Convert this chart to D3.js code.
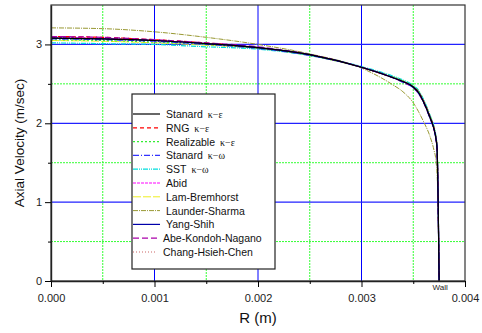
<!DOCTYPE html>
<html><head><meta charset="utf-8">
<script src="https://cdn.jsdelivr.net/npm/d3@7"></script>
<style>body{margin:0;background:#fff}svg{display:block}</style>
</head><body>
<script>
// ---- data ----
const radius = [0, 0.0005, 0.001, 0.0015, 0.002, 0.0025, 0.003, 0.0033, 0.0034, 0.0035, 0.00355, 0.0036, 0.00366, 0.0037, 0.00372, 0.00373, 0.00374, 0.003745, 0.00375];
const seriesNames = ["Stanard", "RNG", "Realizable", "Stanard", "SST", "Abid", "Lam-Bremhorst", "Launder-Sharma", "Yang-Shih", "Abe-Kondoh-Nagano", "Chang-Hsieh-Chen"];
const seriesSuffix = ["κ−ε", "κ−ε", "κ−ε", "κ−ω", "κ−ω", "", "", "", "", "", ""];
const stdKe      = [3.08,3.07,3.05,3.01,2.96,2.87,2.71,2.58,2.53,2.46,2.39,2.27,2.08,1.93,1.80,1.68,1.05,0.55,0];
const rngKe      = [3.10,3.09,3.06,3.02,2.96,2.87,2.71,2.58,2.53,2.46,2.40,2.28,2.09,1.94,1.81,1.69,1.06,0.55,0];
const realKe     = [3.06,3.05,3.03,3.00,2.95,2.86,2.71,2.59,2.54,2.47,2.41,2.29,2.10,1.95,1.82,1.70,1.07,0.56,0];
const stdKw      = [3.07,3.06,3.04,3.00,2.95,2.86,2.71,2.58,2.52,2.45,2.38,2.27,2.07,1.92,1.79,1.67,1.04,0.54,0];
const sstKw      = [3.02,3.01,3.00,2.97,2.94,2.86,2.72,2.60,2.55,2.48,2.42,2.30,2.11,1.96,1.83,1.71,1.08,0.56,0];
const abid       = [3.09,3.08,3.05,3.01,2.96,2.87,2.71,2.58,2.53,2.46,2.39,2.28,2.08,1.93,1.80,1.68,1.05,0.55,0];
const lamBrem    = [3.05,3.04,3.02,2.99,2.95,2.86,2.71,2.59,2.54,2.47,2.41,2.29,2.10,1.95,1.82,1.70,1.07,0.56,0];
const launderSh  = [3.21,3.20,3.16,3.09,3.00,2.88,2.70,2.49,2.40,2.26,2.15,2.02,1.84,1.66,1.52,1.35,0.95,0.50,0];
const yangShih   = [3.08,3.07,3.05,3.01,2.96,2.87,2.71,2.58,2.53,2.46,2.39,2.27,2.08,1.93,1.80,1.68,1.05,0.55,0];
const abeKN      = [3.10,3.09,3.06,3.02,2.97,2.87,2.71,2.58,2.52,2.45,2.38,2.26,2.07,1.92,1.79,1.67,1.04,0.54,0];
const changHC    = [3.09,3.08,3.05,3.01,2.96,2.87,2.71,2.58,2.53,2.46,2.40,2.28,2.09,1.94,1.81,1.69,1.06,0.55,0];
const seriesValues = [stdKe, rngKe, realKe, stdKw, sstKw, abid, lamBrem, launderSh, yangShih, abeKN, changHC];
const xTicks = [0, 0.001, 0.002, 0.003, 0.004];
const xTickLabels = ["0.000", "0.001", "0.002", "0.003", "0.004"];
const xMinor = [0.0005, 0.0015, 0.0025, 0.0035];
const yTicks = [0, 1, 2, 3];
const yMinor = [0.5, 1.5, 2.5];
const wallR = 0.00375;

// ---- styles ----
const colors = ["#000000", "#ff0000", "#33ee33", "#3333ff", "#00dddd", "#ff00ff", "#eeee22", "#999933", "#0000aa", "#aa00aa", "#cc6666"];
const dashes = ["", "4,3", "2,2", "6,2,1,2", "5,1,1,1,1,1", "3,1", "8,2", "5,1,1,1", "", "6,3", "1,2"];
const widths = [1.2, 1.2, 1.2, 1.2, 1.2, 1, 1, 1, 1.2, 1.2, 1.2];

const W = 482, H = 333;
const m = {l: 51, r: 465, t: 5, b: 281};
const svg = d3.select("body").append("svg").attr("width", W).attr("height", H);
const x = d3.scaleLinear().domain([0, 0.004]).range([m.l, m.r]);
const y = d3.scaleLinear().domain([0, 3.5]).range([m.b, m.t]);

// grid
const g = svg.append("g");
g.selectAll(".gxm").data(xMinor).enter().append("line")
  .attr("x1", d => x(d)).attr("x2", d => x(d)).attr("y1", m.t).attr("y2", m.b)
  .attr("stroke", "#33ff33").attr("stroke-dasharray", "2,1").attr("stroke-width", 1);
g.selectAll(".gym").data(yMinor).enter().append("line")
  .attr("y1", d => y(d)).attr("y2", d => y(d)).attr("x1", m.l).attr("x2", m.r)
  .attr("stroke", "#33ff33").attr("stroke-dasharray", "2,1").attr("stroke-width", 1);
g.selectAll(".gx").data(xTicks.slice(1, -1)).enter().append("line")
  .attr("x1", d => x(d)).attr("x2", d => x(d)).attr("y1", m.t).attr("y2", m.b)
  .attr("stroke", "#0000ff").attr("stroke-width", 1);
g.selectAll(".gy").data(yTicks.slice(1)).enter().append("line")
  .attr("y1", d => y(d)).attr("y2", d => y(d)).attr("x1", m.l).attr("x2", m.r)
  .attr("stroke", "#2222ff").attr("stroke-width", 1.3);

// series
const line = d3.line().x((d, i) => x(radius[i])).y(d => y(d)).curve(d3.curveMonotoneX);
const order = [7, 6, 4, 2, 5, 10, 1, 9, 3, 8, 0];
order.forEach(k => {
  svg.append("path").datum(seriesValues[k]).attr("d", line)
    .attr("fill", "none").attr("stroke", colors[k]).attr("stroke-width", widths[k])
    .attr("stroke-dasharray", dashes[k] || null);
});

// frame
svg.append("rect").attr("x", m.l).attr("y", m.t).attr("width", m.r - m.l).attr("height", m.b - m.t)
  .attr("fill", "none").attr("stroke", "#333").attr("stroke-width", 1.2);

// axes
const xAxis = d3.axisBottom(x).tickValues(xTicks).tickFormat((d, i) => xTickLabels[i]).tickSize(6).tickSizeOuter(0);
const xa = svg.append("g").attr("transform", `translate(0,${m.b})`).call(xAxis);
xa.select(".domain").attr("stroke", "#222").attr("stroke-width", 1.4);
xa.selectAll("text").attr("font-family", "Liberation Sans, Arial, sans-serif").attr("font-size", 11).attr("fill", "#222").attr("dy", "1.1em");
const xa2 = svg.append("g").attr("transform", `translate(0,${m.b})`).call(d3.axisBottom(x).tickValues(xMinor).tickFormat("").tickSize(3).tickSizeOuter(0));
xa2.select(".domain").remove();

const yAxis = d3.axisLeft(y).tickValues(yTicks).tickFormat(d3.format("d")).tickSize(6).tickSizeOuter(0);
const ya = svg.append("g").attr("transform", `translate(${m.l},0)`).call(yAxis);
ya.select(".domain").attr("stroke", "#222").attr("stroke-width", 1.4);
ya.selectAll("text").attr("font-family", "Liberation Sans, Arial, sans-serif").attr("font-size", 11).attr("fill", "#222").attr("x", -9);
const ya2 = svg.append("g").attr("transform", `translate(${m.l},0)`).call(d3.axisLeft(y).tickValues(yMinor).tickFormat("").tickSize(3).tickSizeOuter(0));
ya2.select(".domain").remove();

// wall label
svg.append("text").attr("x", x(wallR) + 1).attr("y", m.b + 9).attr("text-anchor", "middle")
  .attr("font-family", "Liberation Sans, Arial, sans-serif").attr("font-size", 8).attr("fill", "#222").text("Wall");

// axis titles
svg.append("text").attr("x", 258).attr("y", 323).attr("text-anchor", "middle")
  .attr("font-family", "Liberation Sans, Arial, sans-serif").attr("font-size", 15).attr("fill", "#111").text("R (m)");
svg.append("text").attr("transform", "translate(24,143) rotate(-90)").attr("text-anchor", "middle")
  .attr("font-family", "Liberation Sans, Arial, sans-serif").attr("font-size", 13.5).attr("fill", "#111").text("Axial Velocity (m/sec)");

// legend
const lg = svg.append("g");
lg.append("rect").attr("x", 132).attr("y", 94).attr("width", 143).attr("height", 175)
  .attr("fill", "#fff").attr("stroke", "#222").attr("stroke-width", 1.2);
seriesNames.forEach((name, i) => {
  const cy = 114 + 13.8 * i;
  const tx = i >= 9 ? 163 : 166;
  lg.append("line").attr("x1", 133).attr("x2", tx - 6).attr("y1", cy).attr("y2", cy)
    .attr("stroke", colors[i]).attr("stroke-width", widths[i]).attr("stroke-dasharray", dashes[i] || null);
  const t = lg.append("text").attr("x", tx).attr("y", cy + 4)
    .attr("font-family", "Liberation Sans, Arial, sans-serif").attr("font-size", 10.5).attr("fill", "#111");
  t.append("tspan").text(name);
  if (seriesSuffix[i]) {
    t.append("tspan").attr("dx", 5).attr("font-family", "Liberation Serif, Times New Roman, serif")
      .attr("font-size", 10).text(seriesSuffix[i]);
  }
});
</script>
</body></html>
